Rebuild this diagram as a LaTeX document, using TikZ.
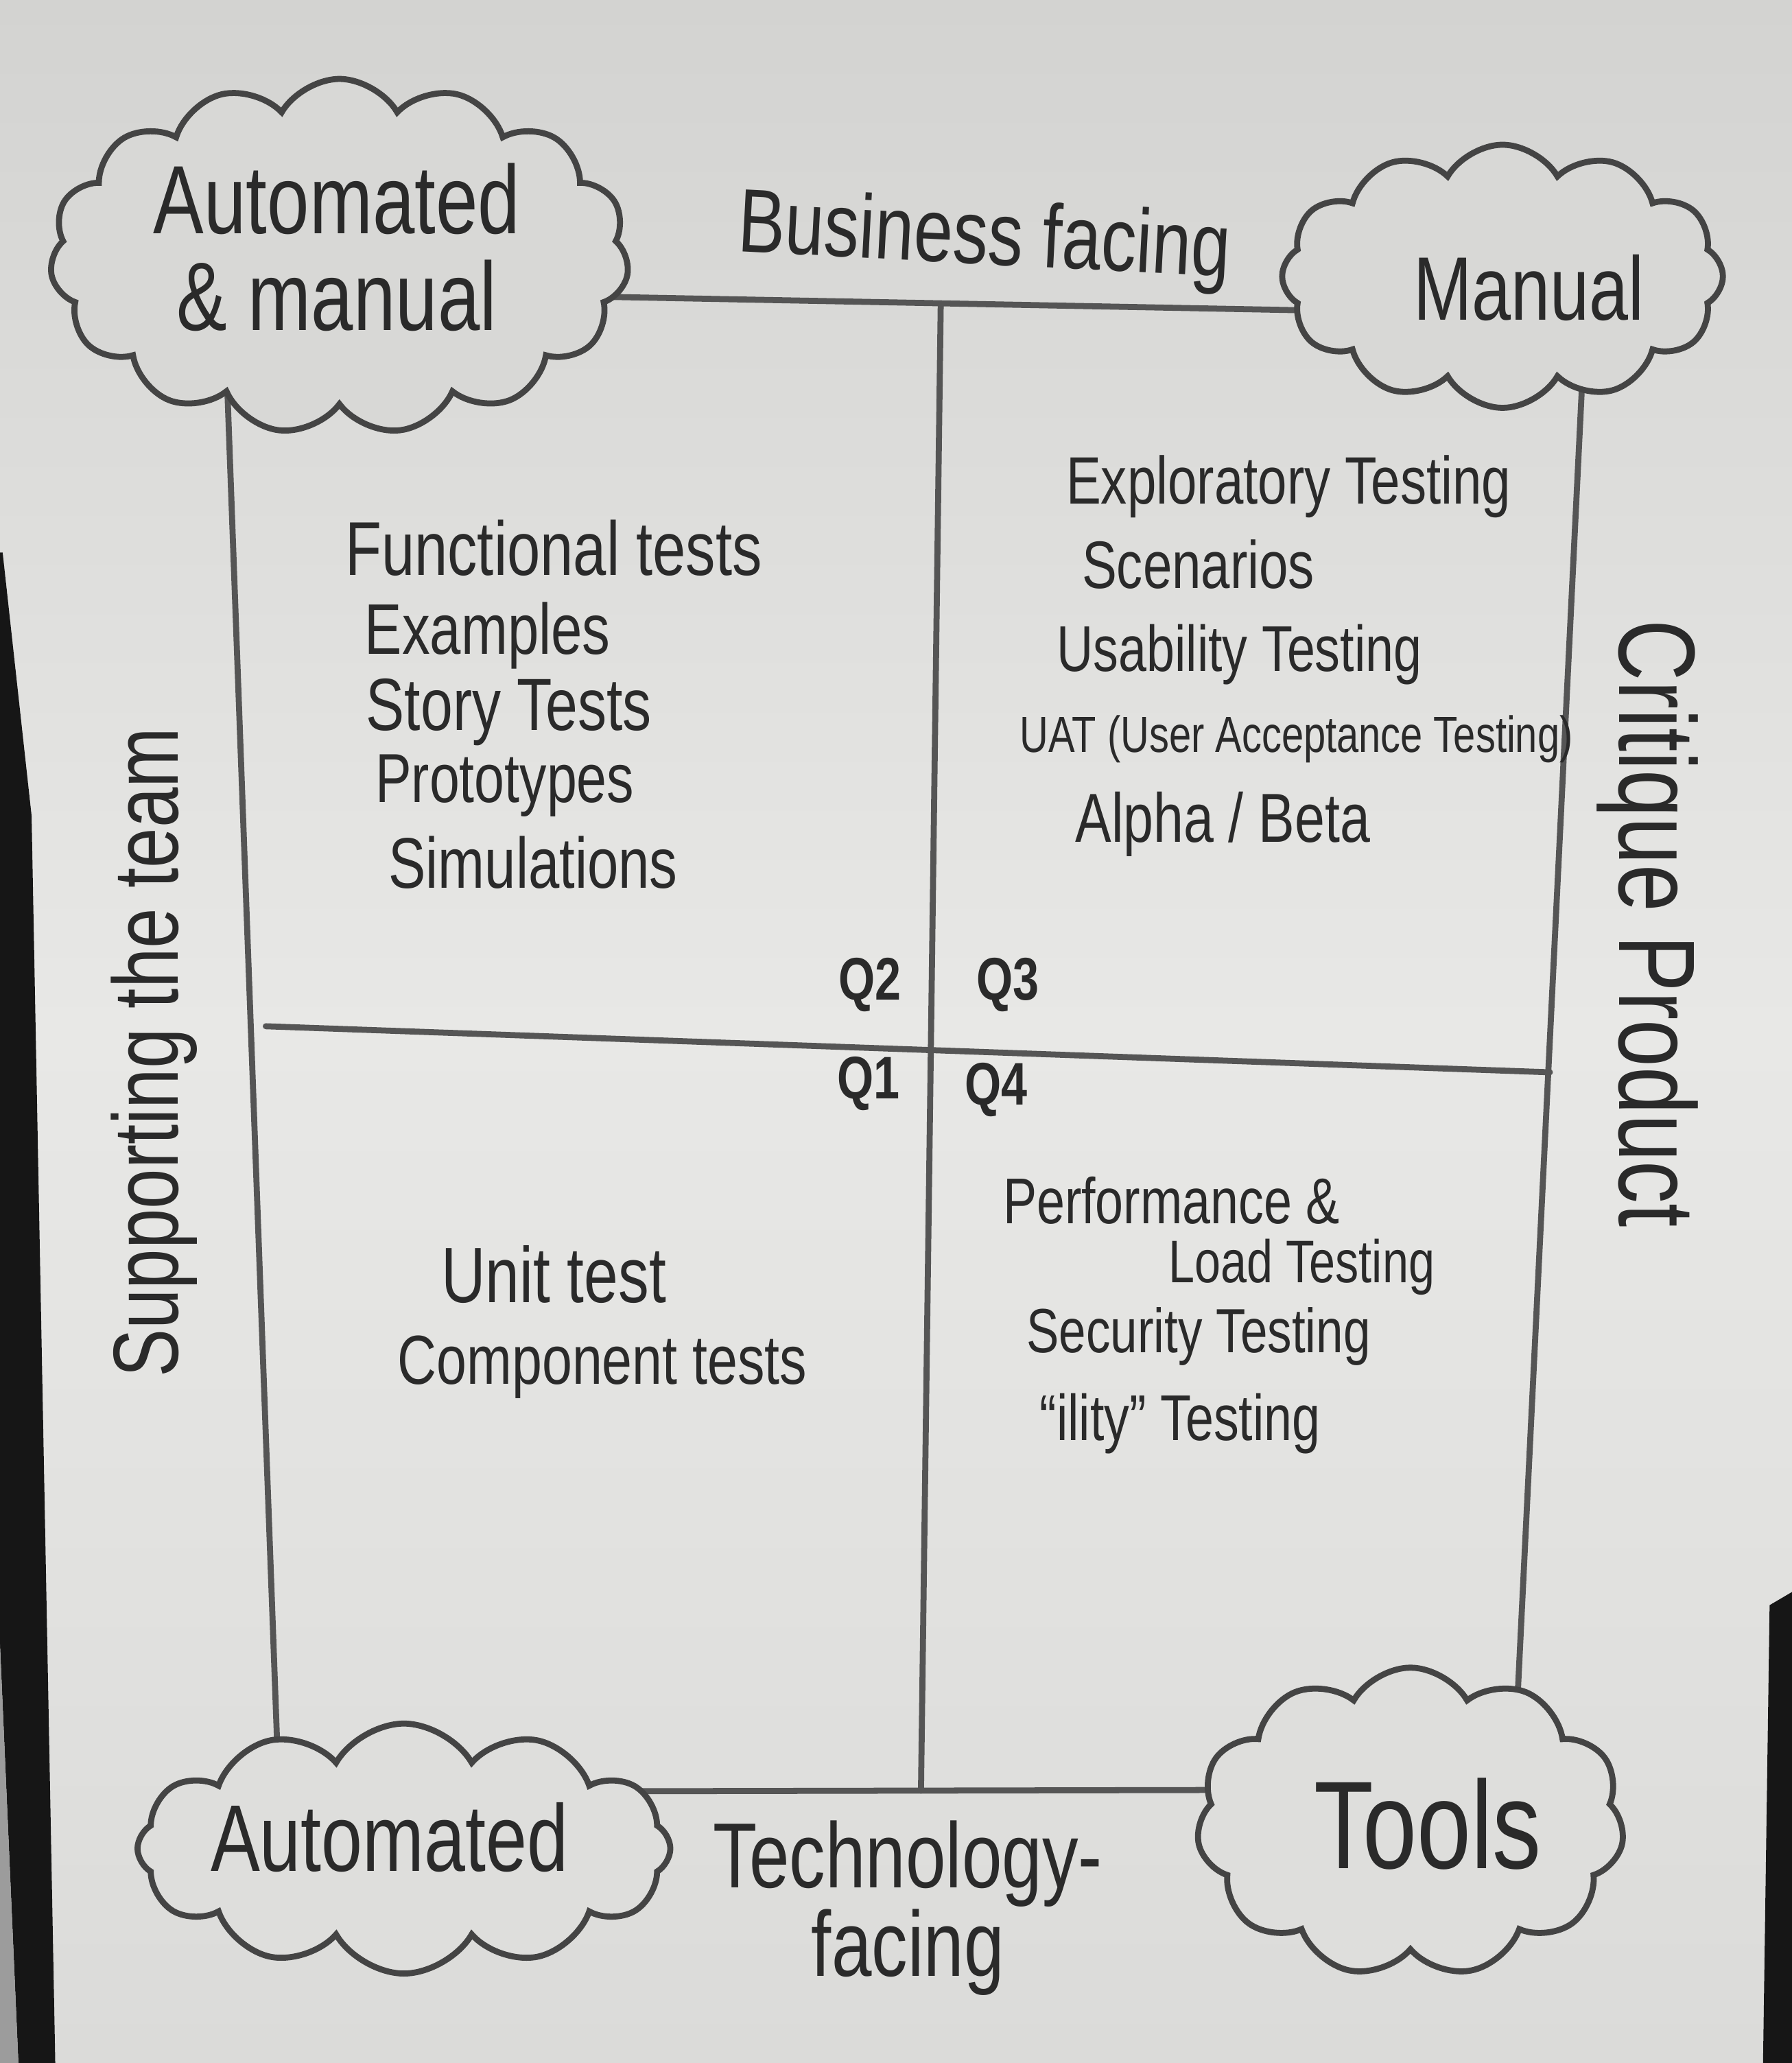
\documentclass[tikz,border=0pt]{standalone}
\usepackage{fontspec}
\setmainfont{Liberation Sans}[FakeStretch=0.78]
\usetikzlibrary{shapes.symbols}
\begin{document}
\begin{tikzpicture}[x=0.2mm,y=-0.2mm,
  pen/.style={color0,line width=2.6pt,line cap=round},
  puff/.style={cloud,cloud puffs=#1,cloud puff arc=120,cloud ignores aspect,draw=color1,line width=2.6pt,inner sep=0pt},
  hand/.style={text=color2,inner sep=0pt,font=\fontsize{#1}{#1}\selectfont},
  qtag/.style={text=color2,inner sep=0pt,anchor=base,font=\fontsize{26}{26}\selectfont\bfseries}]
\definecolor{color0}{HTML}{555555}
\definecolor{color1}{HTML}{444444}
\definecolor{color2}{HTML}{2A2A2A}
\definecolor{color3}{HTML}{D3D3D1}
\definecolor{color4}{HTML}{E8E8E6}
\definecolor{color5}{HTML}{DBDBD9}
\definecolor{color6}{HTML}{161616}
\definecolor{color7}{HTML}{9C9C9C}
\definecolor{color8}{HTML}{D8D8D6}
\definecolor{color9}{HTML}{DEDEDC}
\useasboundingbox (0,0) rectangle (1362,1568);
% paper and board edges
\shade[top color=color3,bottom color=color5,middle color=color4] (0,0) rectangle (1362,1568);
\fill[color6] (0,420) -- (2,420) -- (24,620) -- (42,1568) -- (14,1568) -- (0,1250) -- cycle;
\fill[color7] (0,1250) -- (14,1568) -- (0,1568) -- cycle;
\fill[color6] (1345,1220) -- (1362,1210) -- (1362,1568) -- (1340,1568) -- cycle;
% frame and quadrant lines
\coordinate (ctl) at (170,220);
\coordinate (ctr) at (1205,240);
\coordinate (cbr) at (1150,1360);
\coordinate (cbl) at (212,1362);
\coordinate (qtop) at (715,232);
\coordinate (qbot) at (700,1361);
\coordinate (qleft) at (202,780);
\coordinate (qright) at (1178,815);
\draw[pen] (ctl) -- (ctr) -- (cbr) -- (cbl) -- cycle;
\draw[pen] (qtop) -- (qbot);
\draw[pen] (qleft) -- (qright);
% clouds
\node[puff=15,fill=color8,minimum width=8.8cm,minimum height=5.4cm] (tl) at (258,195) {};
\node[puff=12,fill=color8,minimum width=6.7cm,minimum height=4cm] (tr) at (1142,210) {};
\node[puff=12,fill=color9,minimum width=8.1cm,minimum height=3.8cm] (bl) at (307,1405) {};
\node[puff=11,fill=color9,minimum width=6.5cm,minimum height=4.7cm] (br) at (1072,1385) {};
\node[hand=42,align=center] (tltxt) at (256,188) {Automated\\\& manual};
\node[hand=39,anchor=base] (trtxt) at (1162,243) {Manual};
\node[hand=41,anchor=base] (bltxt) at (296,1422) {Automated};
\node[hand=54,anchor=base] (brtxt) at (1085,1420) {Tools};
% axis labels
\node[hand=39,rotate=-3] (topaxis) at (748,183) {Business facing};
\node[text=color2,inner sep=0pt,align=center,font=\fontsize{40}{35}\selectfont] (botaxis) at (690,1450) {Technology-\\facing};
\node[hand=40,rotate=90] (leftaxis) at (117,800) {Supporting the team};
\node[hand=47,rotate=-90] (rightaxis) at (1252,702) {Critique Product};
% Q2
\node[hand=33,anchor=base west] (q2a) at (262,437) {Functional tests};
\node[hand=31,anchor=base west] (q2b) at (277,497) {Examples};
\node[hand=32,anchor=base west] (q2c) at (278,555) {Story Tests};
\node[hand=30,anchor=base west] (q2d) at (285,610) {Prototypes};
\node[hand=31,anchor=base west] (q2e) at (295,675) {Simulations};
% Q3
\node[hand=29,anchor=base west] (q3a) at (810,383) {Exploratory Testing};
\node[hand=29,anchor=base west] (q3b) at (822,447) {Scenarios};
\node[hand=28,anchor=base west] (q3c) at (803,510) {Usability Testing};
\node[hand=22,anchor=base west] (q3d) at (775,572) {UAT (User Acceptance Testing)};
\node[hand=30,anchor=base west] (q3e) at (817,640) {Alpha / Beta};
% Q1
\node[hand=34,anchor=base west] (q1a) at (335,990) {Unit test};
\node[hand=30,anchor=base west] (q1b) at (302,1052) {Component tests};
% Q4
\node[hand=28,anchor=base west] (q4a) at (762,930) {Performance \&};
\node[hand=26,anchor=base west] (q4b) at (888,975) {Load Testing};
\node[hand=27,anchor=base west] (q4c) at (780,1028) {Security Testing};
\node[hand=28,anchor=base west] (q4d) at (790,1095) {“ility” Testing};
% quadrant tags
\node[qtag] (tagq2) at (661,760) {Q2};
\node[qtag] (tagq3) at (766,760) {Q3};
\node[qtag] (tagq1) at (660,835) {Q1};
\node[qtag] (tagq4) at (757,840) {Q4};
\end{tikzpicture}
\end{document}
